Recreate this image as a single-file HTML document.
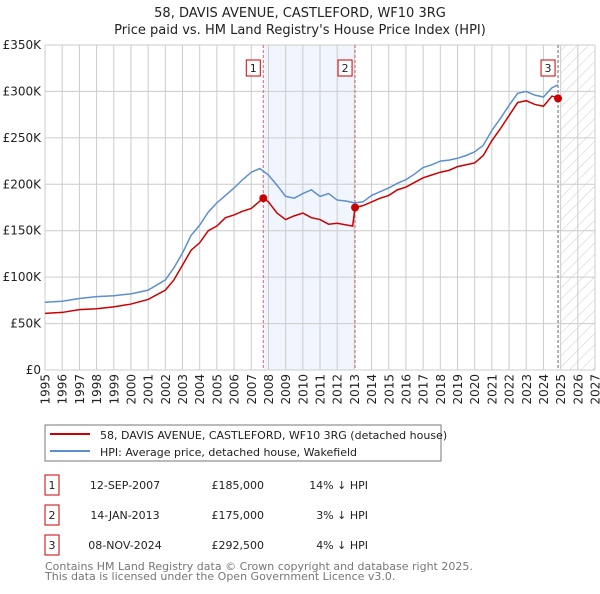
<!DOCTYPE html>
<html><head><meta charset="utf-8"><style>
body{margin:0;background:#fff;font-family:"DejaVu Sans","Liberation Sans",sans-serif;}
svg text{font-family:"DejaVu Sans","Liberation Sans",sans-serif;}
</style></head><body>
<svg id="c" width="600" height="590" xmlns="http://www.w3.org/2000/svg">
<defs><pattern id="hatch" width="8" height="8" patternUnits="userSpaceOnUse" patternTransform="rotate(45)"><line x1="0" y1="0" x2="0" y2="8" stroke="#ccc" stroke-width="1"/></pattern></defs>
<text x="300" y="17" text-anchor="middle" font-size="13" fill="#222">58, DAVIS AVENUE, CASTLEFORD, WF10 3RG</text>
<text x="300" y="34" text-anchor="middle" font-size="13" fill="#222">Price paid vs. HM Land Registry's House Price Index (HPI)</text>
<g id="plot"></g>
<rect x="45" y="425" width="396" height="36" fill="#fff" stroke="#777"/>
<line x1="50" y1="434" x2="90" y2="434" stroke="#cc0000" stroke-width="2"/>
<text x="100" y="439" font-size="11" fill="#222">58, DAVIS AVENUE, CASTLEFORD, WF10 3RG (detached house)</text>
<line x1="50" y1="451" x2="90" y2="451" stroke="#5b8fd0" stroke-width="2"/>
<text x="100" y="456" font-size="11" fill="#222">HPI: Average price, detached house, Wakefield</text>
<g id="table" font-size="11" fill="#222"></g>
<text x="45" y="570" font-size="11" fill="#777">Contains HM Land Registry data © Crown copyright and database right 2025.</text>
<text x="45" y="580" font-size="11" fill="#777">This data is licensed under the Open Government Licence v3.0.</text>
</svg>
<script>
const hpiYears=[1995,1996,1997,1998,1999,2000,2001,2002,2002.5,2003,2003.5,2004,2004.5,2005,2005.5,2006,2006.5,2007,2007.5,2008,2008.5,2009,2009.5,2010,2010.5,2011,2011.5,2012,2012.5,2013,2013.5,2014,2014.5,2015,2015.5,2016,2016.5,2017,2017.5,2018,2018.5,2019,2019.5,2020,2020.5,2021,2021.5,2022,2022.5,2023,2023.5,2024,2024.5,2024.85];
const hpiValues=[73,74,77,79,80,82,86,97,110,126,145,156,170,180,188,196,205,213,217,210,199,187,185,190,194,187,190,183,182,180,181,188,192,196,201,205,211,218,221,225,226,228,231,235,242,258,271,285,298,300,296,294,304,307];
const propYears=[1995,1996,1997,1998,1999,2000,2001,2002,2002.5,2003,2003.5,2004,2004.5,2005,2005.5,2006,2006.5,2007,2007.7,2008,2008.5,2009,2009.5,2010,2010.5,2011,2011.5,2012,2012.9,2013.04,2013.5,2014,2014.5,2015,2015.5,2016,2016.5,2017,2017.5,2018,2018.5,2019,2019.5,2020,2020.5,2021,2021.5,2022,2022.5,2023,2023.5,2024,2024.5,2024.85];
const propValues=[61,62,65,66,68,71,76,86,97,113,129,137,150,155,164,167,171,174,185,181,169,162,166,169,164,162,157,158,155,175,177,181,185,188,194,197,202,207,210,213,215,219,221,223,231,247,260,274,288,290,286,284,295,293];
const saleLabels=["1","2","3"];
const saleYears=[2007.70,2013.04,2024.85];
const saleValues=[185,175,292.5];
const saleDates=["12-SEP-2007","14-JAN-2013","08-NOV-2024"];
const salePrices=["£185,000","£175,000","£292,500"];
const saleDiffs=["14% ↓ HPI","3% ↓ HPI","4% ↓ HPI"];
const yTicks=[0,50,100,150,200,250,300,350];
const yTickLabels=["£0","£50K","£100K","£150K","£200K","£250K","£300K","£350K"];
const xTicks=[1995,1996,1997,1998,1999,2000,2001,2002,2003,2004,2005,2006,2007,2008,2009,2010,2011,2012,2013,2014,2015,2016,2017,2018,2019,2020,2021,2022,2023,2024,2025,2026,2027];

const NS="http://www.w3.org/2000/svg";
const L=45,R=595,T=45,B=370;
const x=v=>L+(v-1995)*(R-L)/32;
const y=v=>B-v*(B-T)/350;
const g=document.getElementById('plot');
function mk(tag,attrs,parent){const e=document.createElementNS(NS,tag);for(const k in attrs)e.setAttribute(k,attrs[k]);(parent||g).appendChild(e);return e;}
let e;
e=mk('rect',{x:x(saleYears[0]),y:T,width:x(saleYears[1])-x(saleYears[0]),height:B-T,fill:'#eef2fc',opacity:0.8});


e=mk('rect',{x:x(2025),y:T,width:x(2027)-x(2025),height:B-T,fill:'url(#hatch)'});


xTicks.forEach(t=>{
 e=mk('line',{x1:x(t),x2:x(t),y1:T,y2:B,stroke:'#ccc','stroke-width':1});
 
 
 e=mk('text',{x:0,y:0,'text-anchor':'end','font-size':12,fill:'#222',transform:'translate('+(x(t)+4.5)+','+(B+4)+') rotate(-90)'});e.textContent=t;
 
 
});
yTicks.forEach((t,i)=>{
 e=mk('line',{x1:L,x2:R,y1:y(t),y2:y(t),stroke:'#ccc','stroke-width':1});
 
 
 e=mk('text',{x:L-4,y:y(t)+4,'text-anchor':'end','font-size':12,fill:'#222'});e.textContent=yTickLabels[i];
 
 
});
saleYears.forEach((s,i)=>{
 e=mk('line',{x1:x(s),x2:x(s),y1:T,y2:B,stroke:i==2?'#666':'#e06070','stroke-width':1,'stroke-dasharray':'3,2'});
 
 
});
e=mk('polyline',{points:hpiYears.map((t,i)=>x(t)+','+y(hpiValues[i])).join(' '),fill:'none',stroke:'#5b8fd0','stroke-width':1.5});


e=mk('polyline',{points:propYears.map((t,i)=>x(t)+','+y(propValues[i])).join(' '),fill:'none',stroke:'#cc0000','stroke-width':1.5});


saleYears.forEach((s,i)=>{
 e=mk('circle',{cx:x(s),cy:y(saleValues[i]),r:4,fill:'#cc0000'});
 
 
 const bx=x(s)-17;
 e=mk('rect',{x:bx,y:60,width:14,height:16,fill:'#fff',stroke:'#cc0000'});
 
 
 e=mk('text',{x:bx+7,y:72,'text-anchor':'middle','font-size':11,fill:'#222'});e.textContent=saleLabels[i];
 
 
});
const tb=document.getElementById('table');
saleLabels.forEach((l,i)=>{
 const ry=475+i*30;
 e=mk('rect',{x:45,y:ry,width:14,height:20,fill:'#fff',stroke:'#cc0000'},tb);
 
 
 e=mk('text',{x:52,y:ry+14,'text-anchor':'middle'},tb);e.textContent=l;
 
 
 e=mk('text',{x:125,y:ry+14,'text-anchor':'middle'},tb);e.textContent=saleDates[i];
 
 
 e=mk('text',{x:264,y:ry+14,'text-anchor':'end'},tb);e.textContent=salePrices[i];
 
 
 e=mk('text',{x:368,y:ry+14,'text-anchor':'end'},tb);e.textContent=saleDiffs[i];
 
 
});
</script>
</body></html>
